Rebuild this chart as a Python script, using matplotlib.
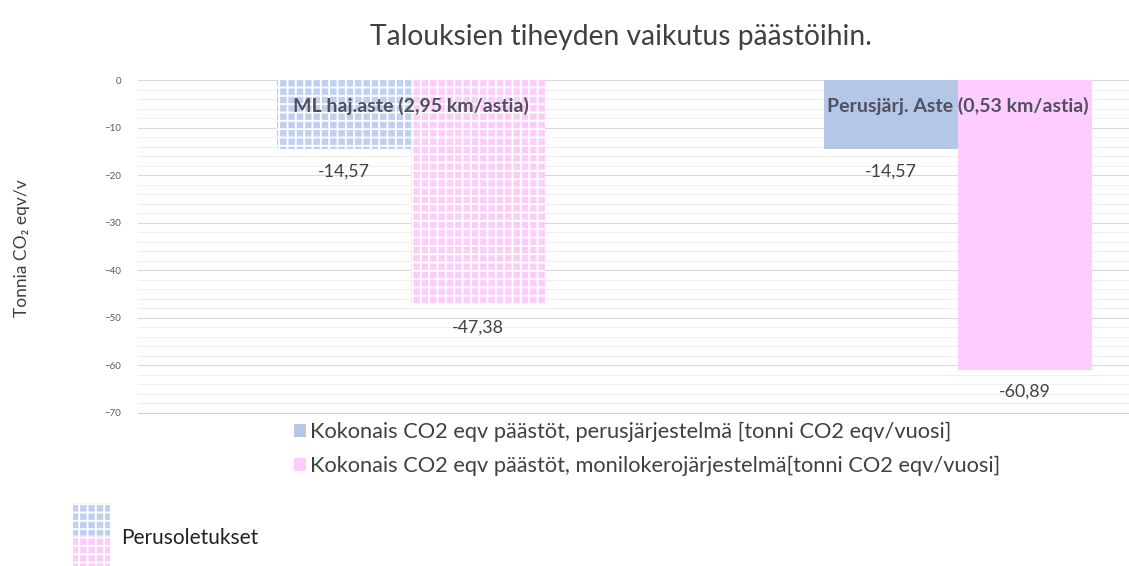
import matplotlib
matplotlib.use('Agg')
import numpy as np
from matplotlib import pyplot as plt
from matplotlib.patches import Patch, Rectangle

plt.rcParams['font.family'] = ['Lato', 'DejaVu Sans']
plt.rcParams['hatch.linewidth'] = 1.3

# data
categories = ['ML haj.aste (2,95 km/astia)', 'Perusjärj. Aste (0,53 km/astia)']
perus = [-14.57, -14.57]
moni = [-47.38, -60.89]
labels_perus = ['-14,57', '-14,57']
labels_moni = ['-47,38', '-60,89']
series_names = ['Kokonais CO2 eqv päästöt, perusjärjestelmä [tonni CO2 eqv/vuosi]',
                'Kokonais CO2 eqv päästöt, monilokerojärjestelmä[tonni CO2 eqv/vuosi]']

blue = '#b4c7e7'
pink = '#ffccff'
blue_h = '#c0d0ee'
pink_h = '#fbcdfb'

fig = plt.figure(figsize=(11.29, 5.66), dpi=100)
ax = fig.add_axes([138 / 1129, 1 - 413 / 566, 1 - 138 / 1129, (413 - 80) / 566])

x = np.arange(len(categories))
w = 0.245
b1 = ax.bar(x - w / 2, perus, w, color=blue, zorder=3, linewidth=0)
b2 = ax.bar(x + w / 2, moni, w, color=pink, zorder=3, linewidth=0)

# first group = perusoletukset, hatched
b1[0].set_facecolor(blue_h)
b1[0].set_hatch('++')
b1[0].set_edgecolor('white')
b2[0].set_facecolor(pink_h)
b2[0].set_hatch('++')
b2[0].set_edgecolor('white')

for i in range(len(categories)):
    ax.text(x[i] - w / 2, perus[i] - 4.6, labels_perus[i], ha='center', va='center',
            fontsize=12.8, color='#404040', zorder=5)
    ax.text(x[i] + w / 2, moni[i] - 4.6, labels_moni[i], ha='center', va='center',
            fontsize=12.8, color='#404040', zorder=5)
    ax.text(x[i], -5.5, categories[i], ha='center', va='center', fontsize=14,
            fontweight='bold', color='#505060', zorder=5)

ax.set_xlim(-0.5, (1129 - 412) / 546)
ax.set_ylim(-70, 0)
ax.set_yticks(np.arange(-70, 1, 10))
ax.set_yticks(np.arange(-70, 1, 2), minor=True)
ax.set_xticks([])
ax.tick_params(axis='y', which='both', length=0, labelsize=7, labelcolor='#595959', pad=12)
ax.grid(axis='y', which='major', color='#d9d9d9', linewidth=0.8, zorder=0)
ax.grid(axis='y', which='minor', color='#f0f0f0', linewidth=0.8, zorder=0)
for s in ['top', 'right', 'left']:
    ax.spines[s].set_visible(False)
ax.spines['bottom'].set_color('#d0d0d0')

fig.text(22 / 1129, 1 - 248 / 566, 'Tonnia CO₂ eqv/v', rotation=90, ha='center', va='center',
         fontsize=12.5, color='#404040')
fig.text(621 / 1129, 1 - 37 / 566, 'Talouksien tiheyden vaikutus päästöihin.', ha='center',
         va='center', fontsize=20.3, color='#404040')

handles = [Patch(facecolor=blue, edgecolor='none'), Patch(facecolor=pink, edgecolor='none')]
leg = fig.legend(handles, series_names, loc='upper left',
                 bbox_to_anchor=(294 / 1129, 1 - 422 / 566), frameon=False, fontsize=15.7,
                 handlelength=0.55, handleheight=0.55, handletextpad=0.2, labelspacing=0.62,
                 labelcolor='#404040', borderaxespad=0, borderpad=0)

# Perusoletukset legend
fig.patches.append(Rectangle((73 / 1129, 1 - 535 / 566), 37 / 1129, 32 / 566,
                             transform=fig.transFigure, facecolor=blue_h, hatch='++',
                             edgecolor='white', linewidth=0))
fig.patches.append(Rectangle((73 / 1129, 0), 37 / 1129, 31 / 566,
                             transform=fig.transFigure, facecolor=pink_h, hatch='++',
                             edgecolor='white', linewidth=0))
fig.text(121 / 1129, 1 - 538 / 566, 'Perusoletukset', ha='left', va='center',
         fontsize=15, color='#222222')

plt.savefig('out.png', dpi=100)
